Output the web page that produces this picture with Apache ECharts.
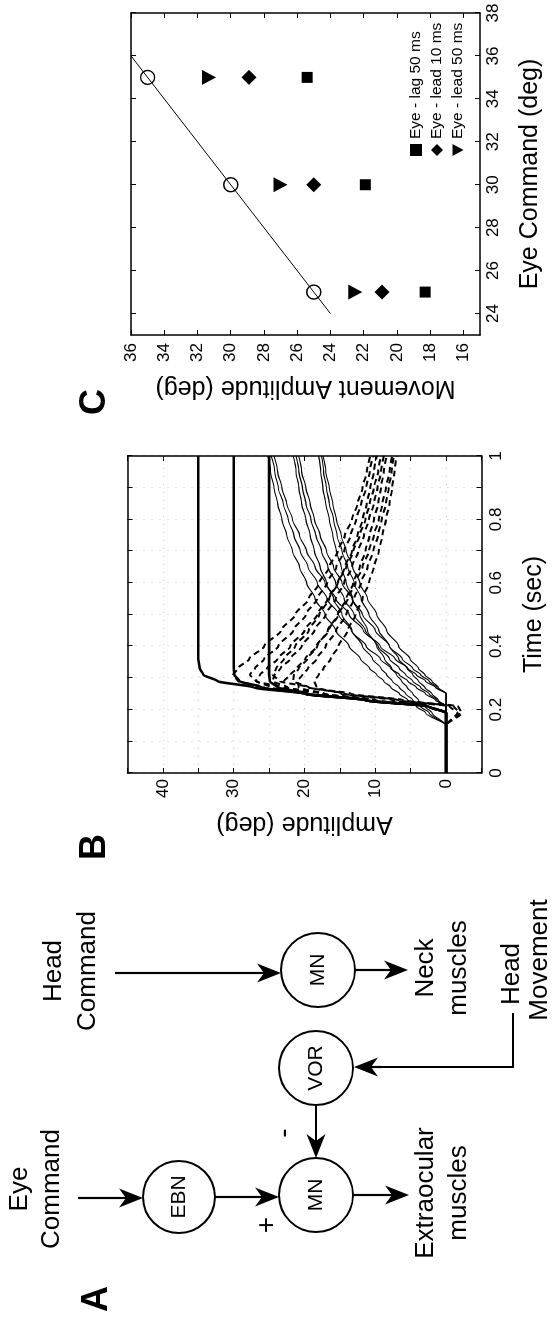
<!DOCTYPE html>
<html><head><meta charset="utf-8">
<script src="https://cdn.jsdelivr.net/npm/echarts@6.0.0/dist/echarts.min.js"></script>
<style>
html,body{margin:0;padding:0;width:552px;height:1318px;overflow:hidden;background:#fff;}
#wrap{position:absolute;left:0;top:0;width:1318px;height:552px;transform-origin:0 0;transform:translate(0px,1318px) rotate(-90deg);}
</style></head>
<body><div id="wrap"></div>
<script>
// ---------- Panel B data (time in s, amplitude in deg) ----------
const T = [0, 0.15, 0.19, 0.21, 0.23, 0.25, 0.27, 0.29, 0.31, 0.33, 0.36, 0.4, 0.45, 0.5, 0.55, 0.6, 0.65, 0.7, 0.75, 0.8, 0.85, 0.9, 0.95, 1.0];
const gaze35 = [0,0,0,2.5,11.5,20,27.2,32.3,34.3,34.8,35,35,35,35,35,35,35,35,35,35,35,35,35,35];
const gaze30 = [0,0,0,2.5,11.5,20,26,29.2,29.9,30,30,30,30,30,30,30,30,30,30,30,30,30,30,30];
const gaze25 = [0,0,0,2.5,11.5,19.5,23.8,24.9,25,25,25,25,25,25,25,25,25,25,25,25,25,25,25,25];
const head35Lag50 = [0,0,2.9,4.2,5.4,6.6,7.8,8.8,9.8,10.8,12.1,13.7,15.6,17.1,18.5,19.7,20.7,21.7,22.5,23.2,23.8,24.3,24.8,25.2];
const head30Lag50 = [0,0,2.4,3.6,4.7,5.7,6.6,7.6,8.4,9.2,10.4,11.8,13.3,14.7,15.9,16.9,17.8,18.6,19.2,19.8,20.4,20.8,21.2,21.6];
const head25Lag50 = [0,0,2.0,3.0,3.9,4.7,5.5,6.3,7.0,7.7,8.7,9.8,11.1,12.2,13.2,14.1,14.8,15.5,16.0,16.5,17.0,17.4,17.7,18.0];
const head35Lead10 = [0,0,0,0,1.5,2.9,4.2,5.4,6.6,7.8,9.3,11.3,13.4,15.2,16.8,18.2,19.5,20.6,21.5,22.3,23.0,23.7,24.2,24.7];
const head30Lead10 = [0,0,0,0,1.3,2.4,3.6,4.7,5.7,6.6,8.0,9.6,11.4,13.0,14.4,15.6,16.7,17.6,18.4,19.1,19.8,20.3,20.8,21.2];
const head25Lead10 = [0,0,0,0,1.1,2.0,3.0,3.9,4.7,5.5,6.7,8.0,9.5,10.9,12.0,13.0,13.9,14.7,15.4,15.9,16.5,16.9,17.3,17.6];
const head35Lead50 = [0,0,0,0,0,0,1.5,2.9,4.2,5.4,7.2,9.3,11.7,13.7,15.6,17.1,18.5,19.7,20.7,21.7,22.5,23.2,23.8,24.3];
const head30Lead50 = [0,0,0,0,0,0,1.3,2.4,3.6,4.7,6.2,8.0,10.0,11.8,13.3,14.7,15.9,16.9,17.8,18.6,19.2,19.8,20.4,20.8];
const head25Lead50 = [0,0,0,0,0,0,1.1,2.0,3.0,3.9,5.1,6.7,8.4,9.8,11.1,12.2,13.2,14.1,14.8,15.5,16.0,16.5,17.0,17.4];
const eye35Lag50 = [0,0,-2.2,-1.7,6.1,13.4,19.4,23.5,24.5,24.0,22.9,21.3,19.4,17.9,16.5,15.3,14.3,13.3,12.5,11.8,11.2,10.7,10.2,9.8];
const eye30Lag50 = [0,0,-1.9,-1.1,6.8,14.3,19.4,21.6,21.5,20.8,19.6,18.2,16.7,15.3,14.1,13.1,12.2,11.4,10.8,10.2,9.6,9.2,8.8,8.4];
const eye25Lag50 = [0,0,-1.6,-0.5,7.6,14.8,18.3,18.6,18.0,17.3,16.3,15.2,13.9,12.8,11.8,10.9,10.2,9.5,9.0,8.5,8.0,7.6,7.3,7.0];
const eye35Lead10 = [0,0,0,2.5,10.0,17.1,23.0,26.9,27.7,27.0,25.7,23.7,21.6,19.8,18.2,16.8,15.5,14.4,13.5,12.7,12.0,11.3,10.8,10.3];
const eye30Lead10 = [0,0,0,2.5,10.2,17.6,22.4,24.5,24.2,23.4,22.0,20.4,18.6,17.0,15.6,14.4,13.3,12.4,11.6,10.9,10.2,9.7,9.2,8.8];
const eye25Lead10 = [0,0,0,2.5,10.4,17.5,20.8,21.0,20.3,19.5,18.3,17.0,15.5,14.1,13.0,12.0,11.1,10.3,9.6,9.1,8.5,8.1,7.7,7.4];
const eye35Lead50 = [0,0,0,2.5,11.5,20,25.7,29.4,30.1,29.4,27.8,25.7,23.3,21.3,19.4,17.9,16.5,15.3,14.3,13.3,12.5,11.8,11.2,10.7];
const eye30Lead50 = [0,0,0,2.5,11.5,20,24.7,26.8,26.3,25.3,23.8,22.0,20.0,18.2,16.7,15.3,14.1,13.1,12.2,11.4,10.8,10.2,9.6,9.2];
const eye25Lead50 = [0,0,0,2.5,11.5,19.5,22.7,22.9,22.0,21.1,19.9,18.3,16.6,15.2,13.9,12.8,11.8,10.9,10.2,9.5,9.0,8.5,8.0,7.6];
const bTimeLabels = [0, 0.2, 0.4, 0.6, 0.8, 1];
const bAmpLabels = [0, 10, 20, 30, 40];

// ---------- Panel C data ----------
const eyeCommand = [25, 30, 35];
const gazeAmp = [25, 30, 35];
const eyeLag50 = [18.3, 21.9, 25.4];
const eyeLead10 = [20.9, 25.0, 28.9];
const eyeLead50 = [22.5, 27.0, 31.3];
const fitX = [24, 36];
const fitY = [24, 36];
const cXLabels = [24, 26, 28, 30, 32, 34, 36, 38];
const cYLabels = [16, 18, 20, 22, 24, 26, 28, 30, 32, 34, 36];
const legendNames = ['Eye - lag 50 ms', 'Eye - lead 10 ms', 'Eye - lead 50 ms'];

const FONT = 'Liberation Sans, Arial, Helvetica, sans-serif';
const DOWN_TRI = 'path://M0,0L10,0L5,9Z';
const pair = (xs, ys) => xs.map((x, i) => [x, ys[i]]);

function axisBase(extra) {
  return Object.assign({
    type: 'value',
    axisLine: { show: true, onZero: false, lineStyle: { color: '#000', width: 1.5 } },
    axisTick: { show: true, inside: true, length: 5, lineStyle: { color: '#000', width: 1 } },
    axisLabel: { color: '#000', fontFamily: FONT, fontSize: 17 },
    splitLine: { show: false },
    nameTextStyle: { color: '#000', fontFamily: FONT, fontSize: 25 }
  }, extra);
}

const series = [];
[gaze35, gaze30, gaze25].forEach(gz => series.push({
  type: 'line', xAxisIndex: 0, yAxisIndex: 0, data: pair(T, gz), showSymbol: false, silent: true,
  smooth: 0.25, smoothMonotone: 'x', lineStyle: { color: '#000', width: 2.6 }, z: 4
}));
[head35Lag50, head30Lag50, head25Lag50, head35Lead10, head30Lead10, head25Lead10, head35Lead50, head30Lead50, head25Lead50].forEach(h => series.push({
  type: 'line', xAxisIndex: 0, yAxisIndex: 0, data: pair(T, h), showSymbol: false, silent: true,
  smooth: 0.3, smoothMonotone: 'x', lineStyle: { color: '#000', width: 1.1 }, z: 3
}));
[eye35Lag50, eye30Lag50, eye25Lag50, eye35Lead10, eye30Lead10, eye25Lead10, eye35Lead50, eye30Lead50, eye25Lead50].forEach(e => series.push({
  type: 'line', xAxisIndex: 0, yAxisIndex: 0, data: pair(T, e), showSymbol: false, silent: true,
  smooth: 0.25, smoothMonotone: 'x', lineStyle: { color: '#000', width: 2, type: [6, 4] }, z: 3
}));
series.push({ type: 'line', xAxisIndex: 2, yAxisIndex: 2, data: pair(fitX, fitY), showSymbol: false, silent: true,
  lineStyle: { color: '#000', width: 1 }, z: 2 });
series.push({ type: 'scatter', name: 'Gaze', xAxisIndex: 2, yAxisIndex: 2, data: pair(eyeCommand, gazeAmp), symbol: 'circle', symbolSize: 14,
  itemStyle: { color: 'rgba(255,255,255,0)', borderColor: '#000', borderWidth: 1.4, opacity: 1 }, z: 5 });
series.push({ type: 'scatter', name: legendNames[0], xAxisIndex: 2, yAxisIndex: 2, data: pair(eyeCommand, eyeLag50), symbol: 'rect', symbolSize: 11,
  itemStyle: { color: '#000', opacity: 1 }, z: 5 });
series.push({ type: 'scatter', name: legendNames[1], xAxisIndex: 2, yAxisIndex: 2, data: pair(eyeCommand, eyeLead10), symbol: 'diamond', symbolSize: 15,
  itemStyle: { color: '#000', opacity: 1 }, z: 5 });
series.push({ type: 'scatter', name: legendNames[2], xAxisIndex: 2, yAxisIndex: 2, data: pair(eyeCommand, eyeLead50), symbol: DOWN_TRI, symbolSize: [15, 14],
  itemStyle: { color: '#000', opacity: 1 }, z: 5 });

// ---------- Panel A diagram (layout only) ----------
const g = [];
function txt(s, x, y, size, bold) {
  g.push({ type: 'text', x: x, y: y, silent: true, style: { text: s, fill: '#000', font: (bold ? 'bold ' : '') + size + 'px ' + FONT,
    align: 'center', verticalAlign: 'middle', textAlign: 'center', textVerticalAlign: 'middle' } });
}
function circ(cx, cy, r, label) {
  g.push({ type: 'circle', silent: true, shape: { cx: cx, cy: cy, r: r }, style: { fill: '#fff', stroke: '#000', lineWidth: 2 } });
  txt(label, cx, cy, 21, false);
}
function arrow(x1, y1, x2, y2) {
  const dx = x2 - x1, dy = y2 - y1, len = Math.hypot(dx, dy), ux = dx / len, uy = dy / len, nx = -uy, ny = ux;
  const L = 24, W = 9.5, N = 7;
  const bx = x2 - ux * L, by = y2 - uy * L, mx = x2 - ux * (L - N), my = y2 - uy * (L - N);
  g.push({ type: 'line', silent: true, shape: { x1: x1, y1: y1, x2: mx, y2: my }, style: { stroke: '#000', lineWidth: 2.2 } });
  g.push({ type: 'polygon', silent: true, shape: { points: [[x2, y2], [bx + nx * W, by + ny * W], [mx, my], [bx - nx * W, by - ny * W]] }, style: { fill: '#000' } });
}
txt('A', 19, 97, 36, true);
txt('B', 471, 95, 36, true);
txt('C', 916, 95, 36, true);
txt('Eye', 129, 20, 26); txt('Command', 129, 52, 26);
txt('Head', 347, 54, 26); txt('Command', 347, 88, 26);
arrow(120, 78, 120, 143);
circ(121, 179, 36, 'EBN');
arrow(121, 215, 121, 279);
circ(123, 316, 37, 'MN');
txt('+', 93, 267, 28); txt('-', 185, 284, 28);
circ(250, 316, 37, 'VOR');
arrow(213, 316, 160, 316);
arrow(123, 353, 123, 409);
txt('Extraocular', 125, 426, 26); txt('muscles', 125, 459, 26);
arrow(345, 115, 345, 281);
circ(348, 318, 37, 'MN');
arrow(348, 355, 348, 408);
txt('Neck', 350, 426, 26); txt('muscles', 350, 459, 26);
txt('Head', 344, 512, 26); txt('Movement', 358, 540, 26);
g.push({ type: 'polyline', silent: true, shape: { points: [[305, 513], [251, 513], [251, 380]] }, style: { stroke: '#000', lineWidth: 2, fill: null } });
arrow(251, 382, 251, 354);

const option = {
  animation: false,
  backgroundColor: '#fff',
  grid: [
    { left: 545, top: 127.5, width: 317, height: 354 },
    { left: 983, top: 131, width: 322, height: 349 }
  ],
  xAxis: [
    axisBase({ gridIndex: 0, position: 'bottom', min: 0, max: 1, interval: 0.1,
      axisLabel: { color: '#000', fontFamily: FONT, fontSize: 17, margin: 6, customValues: bTimeLabels, formatter: v => String(+v.toFixed(1)) },
      splitLine: { show: true, lineStyle: { color: '#c8c8c8', width: 1, type: [1, 7] } },
      name: 'Time (sec)', nameLocation: 'middle', nameGap: 40 }),
    axisBase({ gridIndex: 0, position: 'top', min: 0, max: 1, interval: 0.1, axisLabel: { show: false } }),
    axisBase({ gridIndex: 1, position: 'bottom', min: 23, max: 38,
      axisTick: { show: true, inside: true, length: 5, customValues: cXLabels, lineStyle: { color: '#000' } },
      axisLabel: { color: '#000', fontFamily: FONT, fontSize: 17, margin: 5, customValues: cXLabels },
      name: 'Eye Command (deg)', nameLocation: 'middle', nameGap: 38 }),
    axisBase({ gridIndex: 1, position: 'top', min: 23, max: 38,
      axisTick: { show: true, inside: true, length: 5, customValues: cXLabels, lineStyle: { color: '#000' } },
      axisLabel: { show: false } })
  ],
  yAxis: [
    axisBase({ gridIndex: 0, position: 'left', min: -5, max: 45, interval: 5,
      axisLabel: { color: '#000', fontFamily: FONT, fontSize: 17, margin: 6, customValues: bAmpLabels },
      splitLine: { show: true, lineStyle: { color: '#c8c8c8', width: 1, type: [1, 7] } },
      name: 'Amplitude (deg)', nameLocation: 'middle', nameGap: 38 }),
    axisBase({ gridIndex: 0, position: 'right', min: -5, max: 45, interval: 5, axisLabel: { show: false } }),
    axisBase({ gridIndex: 1, position: 'left', min: 15, max: 36,
      axisTick: { show: true, inside: true, length: 5, customValues: cYLabels, lineStyle: { color: '#000' } },
      axisLabel: { color: '#000', fontFamily: FONT, fontSize: 17, margin: 8, customValues: cYLabels },
      name: 'Movement Amplitude (deg)', nameLocation: 'middle', nameGap: 40 }),
    axisBase({ gridIndex: 1, position: 'right', min: 15, max: 36,
      axisTick: { show: true, inside: true, length: 5, customValues: cYLabels, lineStyle: { color: '#000' } },
      axisLabel: { show: false } })
  ],
  legend: {
    data: [
      { name: legendNames[0], icon: 'rect' },
      { name: legendNames[1], icon: 'diamond' },
      { name: legendNames[2], icon: DOWN_TRI }
    ],
    orient: 'vertical', left: 1157, top: 403, itemGap: 5, itemWidth: 12, itemHeight: 12,
    textStyle: { color: '#000', fontFamily: FONT, fontSize: 15.5 }, selectedMode: false
  },
  series: series,
  graphic: { elements: g }
};
const chart = echarts.init(document.getElementById('wrap'), null, { renderer: 'canvas', width: 1318, height: 552 });
chart.setOption(option);
</script>
</body></html>
